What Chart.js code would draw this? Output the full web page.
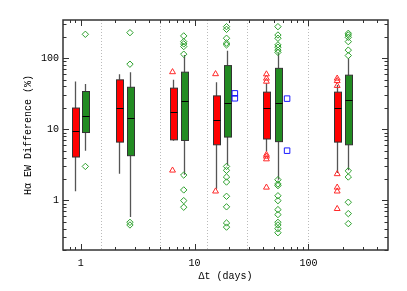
<!DOCTYPE html>
<html>
<head>
<meta charset="utf-8">
<script src="https://cdn.jsdelivr.net/npm/chart.js@4.4.0/dist/chart.umd.min.js"></script>
<style>
  html, body { margin: 0; padding: 0; background: #fff; }
</style>
</head>
<body>
<canvas id="chart" width="407" height="291"></canvas>
<script>
// box positions (days) and box-plot statistics (%)
const redX = [0.886, 2.17, 6.41, 15.3, 42.8, 179];
const greenX = [1.10, 2.71, 8.04, 19.1, 54, 224];

const redLow = [1.34, 2.37, 6.9, 1.45, 4.9, 2.43];
const redQ1 = [4.07, 6.6, 7.1, 6.05, 7.3, 6.6];
const redMed = [9.5, 19.9, 17.5, 13.6, 19.9, 19.9];
const redQ3 = [19.9, 49.6, 37.9, 29.5, 33.3, 33.3];
const redHigh = [47, 59.6, 49.6, 46, 44.6, 42];

const greenLow = [5.0, 0.585, 2.3, 3.1, 1.95, 2.64];
const greenQ1 = [9.0, 4.25, 6.96, 7.77, 6.7, 6.05];
const greenMed = [15.3, 14.4, 25.4, 23.3, 23.8, 26];
const greenQ3 = [34, 39, 63.6, 78.7, 72, 57.7];
const greenHigh = [43.5, 63.6, 111, 127, 117, 100];

const redOutliers = [
  [], [], [64, 2.64], [60, 1.34],
  [59.6, 52, 47, 4.4, 4.15, 3.8, 1.52],
  [52, 48, 41, 2.35, 1.52, 1.34, 0.76]
];
const greenOutliers = [
  [217, 3.0],
  [229, 82.4, 0.49, 0.45],
  [206, 171, 159, 146, 114, 2.27, 1.40, 0.99, 0.80],
  [278, 255, 191, 163, 154, 3.0, 2.64, 2.13, 1.81, 1.14, 0.81, 0.48, 0.42],
  [278, 212, 191, 154, 143, 130, 121, 1.95, 1.70, 1.61, 1.16, 0.99, 0.74, 0.63, 0.49, 0.45, 0.40, 0.35],
  [224, 212, 197, 171, 130, 109, 2.6, 2.13, 0.94, 0.65, 0.47]
];
const blueX = [22.6, 22.6, 65, 65];
const blueY = [32, 27.3, 27, 5.0];

const binEdges = [1.5, 5, 13, 29, 100];

const xTicks = [0.8, 0.9, 1, 2, 3, 4, 5, 6, 7, 8, 9, 10, 20, 30, 40, 50, 60, 70, 80, 90, 100, 200, 300, 400];
const xTickLabels = [1, 10, 100];
const yTicks = [0.2, 0.3, 0.4, 0.5, 0.6, 0.7, 0.8, 0.9, 1, 2, 3, 4, 5, 6, 7, 8, 9, 10, 20, 30, 40, 50, 60, 70, 80, 90, 100, 200, 300];
const yTickLabels = [1, 10, 100];

const fontFamily = "'Liberation Mono', 'DejaVu Sans Mono', monospace";

function toPoints(xs, lists) {
  const pts = [];
  lists.forEach((list, i) => {
    list.forEach((v) => pts.push({ x: xs[i], y: v }));
  });
  return pts;
}

function drawBoxes(ctx, x, y, xs, low, q1, med, q3, high, fill) {
  const half = 3.2;
  xs.forEach((xv, i) => {
    const cx = Math.round(x.getPixelForValue(xv)) + 0.5;
    const yLow = y.getPixelForValue(low[i]);
    const yQ1 = y.getPixelForValue(q1[i]);
    const yMed = Math.round(y.getPixelForValue(med[i])) + 0.5;
    const yQ3 = y.getPixelForValue(q3[i]);
    const yHigh = y.getPixelForValue(high[i]);

    ctx.strokeStyle = "#555";
    ctx.lineWidth = 1.3;
    ctx.beginPath();
    ctx.moveTo(cx, yLow);
    ctx.lineTo(cx, yQ1);
    ctx.moveTo(cx, yQ3);
    ctx.lineTo(cx, yHigh);
    ctx.stroke();

    const l = Math.round(cx - half) + 0.5;
    const r = Math.round(cx + half) + 0.5;
    ctx.fillStyle = fill;
    ctx.fillRect(l, yQ3, r - l, yQ1 - yQ3);
    ctx.strokeStyle = "#333";
    ctx.lineWidth = 1;
    ctx.strokeRect(l, yQ3, r - l, yQ1 - yQ3);

    ctx.strokeStyle = "#000";
    ctx.beginPath();
    ctx.moveTo(l, yMed);
    ctx.lineTo(r, yMed);
    ctx.stroke();
  });
}

const boxPlot = {
  id: "boxPlot",
  beforeDatasetsDraw(chart) {
    const { ctx, chartArea, scales } = chart;
    const x = scales.x, y = scales.y;
    ctx.save();
    ctx.strokeStyle = "#bbb";
    ctx.lineWidth = 1;
    ctx.setLineDash([1, 2]);
    binEdges.forEach((v) => {
      const px = Math.round(x.getPixelForValue(v)) + 0.5;
      ctx.beginPath();
      ctx.moveTo(px, chartArea.top);
      ctx.lineTo(px, chartArea.bottom);
      ctx.stroke();
    });
    ctx.setLineDash([]);
    drawBoxes(ctx, x, y, redX, redLow, redQ1, redMed, redQ3, redHigh, "#ff0000");
    drawBoxes(ctx, x, y, greenX, greenLow, greenQ1, greenMed, greenQ3, greenHigh, "#228b22");
    ctx.restore();
  },
  afterDraw(chart) {
    const { ctx, chartArea, scales } = chart;
    const { left, right, top, bottom } = chartArea;
    ctx.save();
    ctx.strokeStyle = "#333";
    ctx.lineWidth = 1;
    ctx.beginPath();
    scales.x.ticks.forEach((t) => {
      const px = Math.round(scales.x.getPixelForValue(t.value)) + 0.5;
      const len = xTickLabels.includes(t.value) ? 6 : 3;
      ctx.moveTo(px, bottom);
      ctx.lineTo(px, bottom - len);
      ctx.moveTo(px, top);
      ctx.lineTo(px, top + len);
    });
    scales.y.ticks.forEach((t) => {
      const py = Math.round(scales.y.getPixelForValue(t.value)) + 0.5;
      const len = yTickLabels.includes(t.value) ? 6 : 3.5;
      ctx.moveTo(left, py);
      ctx.lineTo(left + len, py);
      ctx.moveTo(right, py);
      ctx.lineTo(right - len, py);
    });
    ctx.stroke();
    ctx.lineWidth = 1.5;
    ctx.strokeRect(left, top, right - left, bottom - top);
    ctx.restore();
  }
};

new Chart(document.querySelector("#chart"), {
  type: "scatter",
  data: {
    datasets: [
      {
        data: toPoints(redX, redOutliers),
        pointStyle: "triangle",
        radius: 3.4,
        borderColor: "#ff2a2a",
        backgroundColor: "rgba(0,0,0,0)",
        borderWidth: 1
      },
      {
        data: toPoints(greenX, greenOutliers),
        pointStyle: "rectRot",
        radius: 3.2,
        borderColor: "#2ca02c",
        backgroundColor: "rgba(0,0,0,0)",
        borderWidth: 1
      },
      {
        data: blueX.map((v, i) => ({ x: v, y: blueY[i] })),
        pointStyle: "rect",
        radius: 3.9,
        borderColor: "#1a1aff",
        backgroundColor: "rgba(0,0,0,0)",
        borderWidth: 1
      }
    ]
  },
  options: {
    responsive: false,
    animation: false,
    layout: { padding: { top: 20, right: 19, left: 0, bottom: 0 } },
    plugins: {
      legend: { display: false },
      tooltip: { enabled: false }
    },
    scales: {
      x: {
        type: "logarithmic",
        min: 0.7,
        max: 500,
        bounds: "data",
        afterBuildTicks: (s) => { s.ticks = xTicks.map((v) => ({ value: v })); },
        afterFit: (s) => { s.height = 41; },
        grid: { display: false, drawTicks: false },
        border: { display: false },
        ticks: {
          autoSkip: false,
          maxRotation: 0,
          padding: 7,
          color: "#000",
          font: { family: fontFamily, size: 10 },
          callback: (v) => (xTickLabels.includes(v) ? String(v) : "")
        },
        title: {
          display: true,
          text: "Δt (days)",
          color: "#000",
          font: { family: fontFamily, size: 10 },
          padding: { top: 0, bottom: 9 }
        }
      },
      y: {
        type: "logarithmic",
        min: 0.2,
        max: 345,
        bounds: "data",
        afterBuildTicks: (s) => { s.ticks = yTicks.map((v) => ({ value: v })); },
        afterFit: (s) => { s.width = 63; },
        grid: { display: false, drawTicks: false },
        border: { display: false },
        ticks: {
          autoSkip: false,
          padding: 4,
          color: "#000",
          font: { family: fontFamily, size: 10 },
          callback: (v) => (yTickLabels.includes(v) ? String(v) : "")
        },
        title: {
          display: true,
          text: "Hα EW Difference (%)",
          color: "#000",
          font: { family: fontFamily, size: 10 },
          padding: { top: 22, bottom: 0 }
        }
      }
    }
  },
  plugins: [boxPlot]
});
</script>
</body>
</html>
